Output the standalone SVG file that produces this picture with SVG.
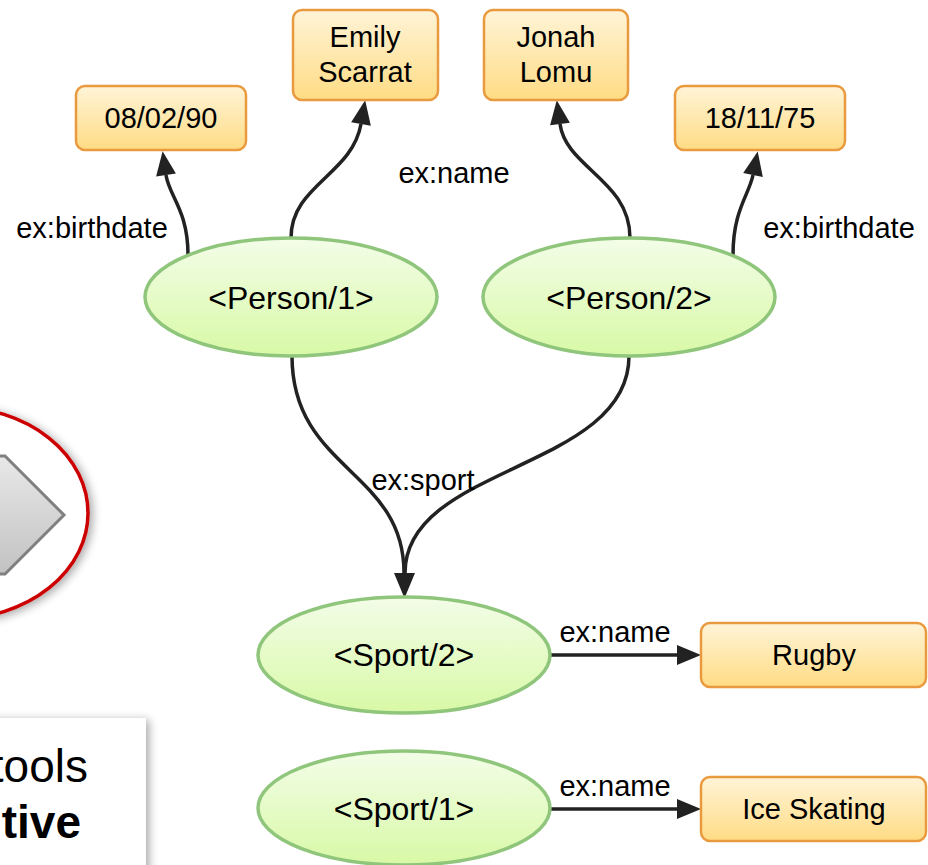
<svg xmlns="http://www.w3.org/2000/svg" width="928" height="865" viewBox="0 0 928 865">
  <defs>
    <style>
      .lbl { font-family: "Liberation Sans", Arial, sans-serif; font-size: 29px; fill: #000; text-anchor: middle; }
      .big { font-size: 32px; }
      .lit rect { fill: url(#litFill); stroke: #ea9a3e; stroke-width: 2.5; }
      .res ellipse { fill: url(#resFill); stroke: #8fc67c; stroke-width: 3.5; }
      .edge { fill: none; stroke: #222; stroke-width: 3.5; marker-end: url(#head); }
      .slide { font-family: "Liberation Sans", Arial, sans-serif; font-size: 46px; fill: #000; text-anchor: end; }
    </style>
    <linearGradient id="litFill" x1="0" y1="0" x2="0" y2="1">
      <stop offset="0" stop-color="#fff4d8"/>
      <stop offset="1" stop-color="#ffdc84"/>
    </linearGradient>
    <linearGradient id="resFill" x1="0" y1="0" x2="0" y2="1">
      <stop offset="0" stop-color="#f3fde8"/>
      <stop offset="1" stop-color="#d8f9a6"/>
    </linearGradient>
    <linearGradient id="chevFill" x1="0" y1="0" x2="0" y2="1">
      <stop offset="0" stop-color="#e8e8e8"/>
      <stop offset="1" stop-color="#c2c2c2"/>
    </linearGradient>
    <marker id="head" markerUnits="userSpaceOnUse" markerWidth="26" markerHeight="22" refX="0" refY="10" orient="auto" overflow="visible">
      <path d="M0,0 L24,10 L0,20 Z" fill="#222"/>
    </marker>
    <filter id="soft" x="-30%" y="-30%" width="160%" height="160%">
      <feGaussianBlur in="SourceAlpha" stdDeviation="5"/>
      <feOffset dx="3" dy="2" result="b"/>
      <feComponentTransfer><feFuncA type="linear" slope="0.35"/></feComponentTransfer>
      <feMerge><feMergeNode/><feMergeNode in="SourceGraphic"/></feMerge>
    </filter>
  </defs>

  <rect width="928" height="865" fill="#fff"/>

  <!-- slide fragments at the left edge -->
  <g id="callout">
    <ellipse cx="-45" cy="513" rx="133" ry="106" fill="#fff" stroke="#cc0000" stroke-width="3.5" filter="url(#soft)"/>
    <polygon points="-60,456 5,456 64,515 5,574 -60,574" fill="url(#chevFill)" stroke="#808080" stroke-width="3"/>
  </g>
  <g id="textPanel">
    <rect x="-30" y="718" width="176" height="180" fill="#fff" filter="url(#soft)"/>
    <text class="slide" x="88" y="782">tools</text>
    <text class="slide" x="81" y="838" font-weight="bold">tive</text>
  </g>

  <!-- connectors -->
  <g id="edges">
    <path class="edge" d="M188,255 C188,210 169,196 166,175"/>
    <path class="edge" d="M291,238 C291,185 352,175 361,124"/>
    <path class="edge" d="M630,238 C630,180 566,168 560,124"/>
    <path class="edge" d="M733,255 C733,210 749,195 753,175"/>
    <path class="edge" d="M292,356 C292,470 404,470 404,573"/>
    <path class="edge" d="M629,356 C629,470 405,465 405,573"/>
    <path class="edge" d="M551,655 L677,655"/>
    <path class="edge" d="M551,809 L677,809"/>
    <text class="lbl" x="92" y="238">ex:birthdate</text>
    <text class="lbl" x="454" y="183">ex:name</text>
    <text class="lbl" x="839" y="238">ex:birthdate</text>
    <text class="lbl" x="423" y="490">ex:sport</text>
    <text class="lbl" x="615" y="642">ex:name</text>
    <text class="lbl" x="615" y="796">ex:name</text>
  </g>

  <!-- literal nodes -->
  <g id="lit-birth1" class="lit">
    <rect x="76" y="86" width="170" height="64" rx="9"/>
    <text class="lbl" x="161" y="128">08/02/90</text>
  </g>
  <g id="lit-name1" class="lit">
    <rect x="293" y="10" width="145" height="90" rx="9"/>
    <text class="lbl" x="365" y="47">Emily</text>
    <text class="lbl" x="365" y="82">Scarrat</text>
  </g>
  <g id="lit-name2" class="lit">
    <rect x="484" y="10" width="144" height="90" rx="9"/>
    <text class="lbl" x="556" y="47">Jonah</text>
    <text class="lbl" x="556" y="82">Lomu</text>
  </g>
  <g id="lit-birth2" class="lit">
    <rect x="675" y="86" width="170" height="64" rx="9"/>
    <text class="lbl" x="760" y="128">18/11/75</text>
  </g>
  <g id="lit-rugby" class="lit">
    <rect x="701" y="623" width="225" height="64" rx="9"/>
    <text class="lbl" x="814" y="665">Rugby</text>
  </g>
  <g id="lit-skating" class="lit">
    <rect x="701" y="777" width="225" height="64" rx="9"/>
    <text class="lbl" x="814" y="819">Ice Skating</text>
  </g>

  <!-- resource nodes -->
  <g id="person1" class="res">
    <ellipse cx="291" cy="297" rx="146" ry="59"/>
    <text class="lbl big" x="291" y="309">&lt;Person/1&gt;</text>
  </g>
  <g id="person2" class="res">
    <ellipse cx="629" cy="297" rx="146" ry="59"/>
    <text class="lbl big" x="629" y="309">&lt;Person/2&gt;</text>
  </g>
  <g id="sport2" class="res">
    <ellipse cx="404" cy="655" rx="146" ry="58"/>
    <text class="lbl big" x="404" y="666">&lt;Sport/2&gt;</text>
  </g>
  <g id="sport1" class="res">
    <ellipse cx="404" cy="808" rx="146" ry="57"/>
    <text class="lbl big" x="404" y="820">&lt;Sport/1&gt;</text>
  </g>
</svg>
